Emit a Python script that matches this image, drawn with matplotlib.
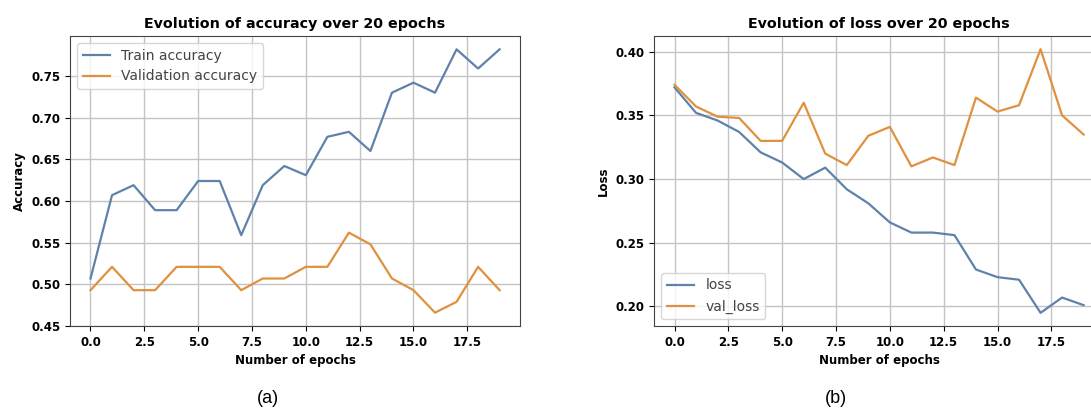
import matplotlib
matplotlib.use("Agg")
import matplotlib.pyplot as plt

epochs = list(range(20))

train_acc = [0.507, 0.607, 0.619, 0.589, 0.589, 0.624, 0.624, 0.559, 0.619, 0.642,
             0.631, 0.677, 0.683, 0.660, 0.730, 0.742, 0.730, 0.782, 0.759, 0.782]
val_acc = [0.493, 0.521, 0.493, 0.493, 0.521, 0.521, 0.521, 0.493, 0.507, 0.507,
           0.521, 0.521, 0.562, 0.548, 0.507, 0.493, 0.466, 0.479, 0.521, 0.493]

loss = [0.372, 0.352, 0.346, 0.337, 0.321, 0.313, 0.300, 0.309, 0.292, 0.281,
        0.266, 0.258, 0.258, 0.256, 0.229, 0.223, 0.221, 0.195, 0.207, 0.201]
val_loss = [0.374, 0.357, 0.349, 0.348, 0.330, 0.330, 0.360, 0.320, 0.311, 0.334,
            0.341, 0.310, 0.317, 0.311, 0.364, 0.353, 0.358, 0.402, 0.350, 0.335]

BLUE = "#5f82aa"
ORANGE = "#e0913f"

plt.rcParams['font.family'] = ['DejaVu Sans']

fig = plt.figure(figsize=(10.91, 4.11), dpi=100)
ax1 = fig.add_axes([0.0642, 0.2068, 0.4125, 0.7056])
ax2 = fig.add_axes([0.5995, 0.2068, 0.4125, 0.7056])

def style(ax, title, ylabel):
    ax.set_title(title, fontsize=10.3, fontweight="bold", pad=6)
    ax.set_xlabel("Number of epochs", fontsize=8.5, fontweight="bold")
    ax.set_ylabel(ylabel, fontsize=8.5, fontweight="bold")
    ax.tick_params(labelsize=8.5)
    for lab in ax.get_xticklabels() + ax.get_yticklabels():
        lab.set_fontweight("bold")
    ax.grid(True, color="#c4c4c4", linewidth=1)
    for s in ax.spines.values():
        s.set_color("#444444")

ax1.plot(epochs, train_acc, color=BLUE, lw=1.6, label="Train accuracy")
ax1.plot(epochs, val_acc, color=ORANGE, lw=1.6, label="Validation accuracy")
ax1.set_ylim(0.45, 0.798)
style(ax1, "Evolution of accuracy over 20 epochs", "Accuracy")
leg = ax1.legend(loc="upper left", fontsize=10)
for t in leg.get_texts():
    t.set_color("#444444")

ax2.plot(epochs, loss, color=BLUE, lw=1.6, label="loss")
ax2.plot(epochs, val_loss, color=ORANGE, lw=1.6, label="val_loss")
style(ax2, "Evolution of loss over 20 epochs", "Loss")
leg = ax2.legend(loc="lower left", fontsize=10)
for t in leg.get_texts():
    t.set_color("#444444")

fig.text(268 / 1091, 1 - 398 / 411, "(a)", family="Liberation Sans", fontsize=13,
         ha="center", va="center")
fig.text(836 / 1091, 1 - 398 / 411, "(b)", family="Liberation Sans", fontsize=13,
         ha="center", va="center")

fig.savefig("out.png", dpi=100)
